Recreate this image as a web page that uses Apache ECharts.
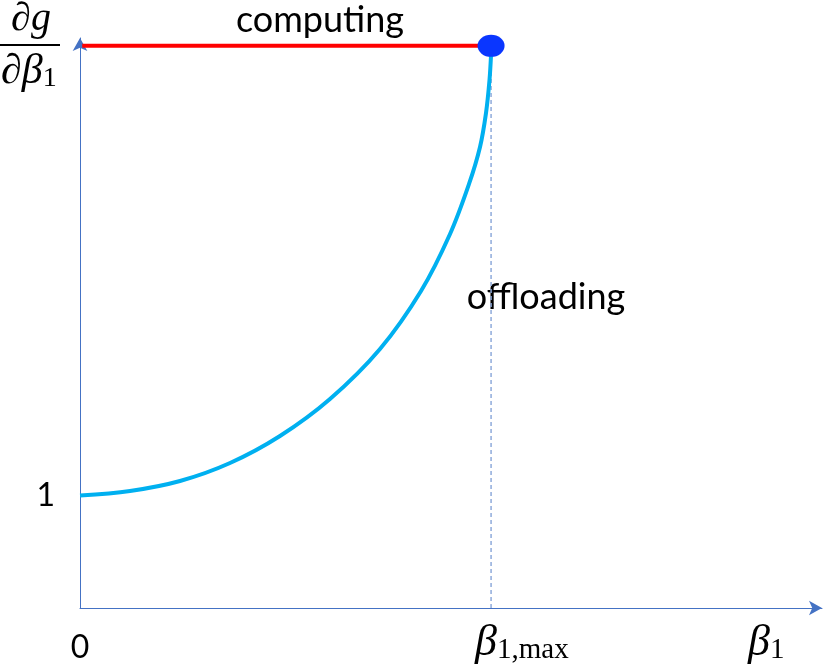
<!DOCTYPE html>
<html>
<head>
<meta charset="utf-8">
<script src="https://cdn.jsdelivr.net/npm/echarts@6/dist/echarts.min.js"></script>
<style>html,body{margin:0;padding:0;background:#fff}#c{width:830px;height:670px}</style>
</head>
<body>
<div id="c"></div>
<script>
// Data
const curveX = [0, 0.674, 1.348, 2.022, 2.695, 3.369, 4.043, 4.596, 4.987, 5.243, 5.391, 5.472, 5.519, 5.539];
const curveY = [1.0, 1.041, 1.130, 1.290, 1.530, 1.859, 2.304, 2.820, 3.327, 3.772, 4.101, 4.404, 4.698, 4.911];
const computingX = [0.03, 5.54];
const computingY = [5, 5];
const betaMax = 5.54;
const betaAxisPos = 9.3;
const xTickValues = [0];
const yTickValues = [1];

const chart = echarts.init(document.getElementById('c'));
const txtFont = 'Lato';
const mathFont = 'Liberation Serif';

chart.setOption({
  animation: false,
  grid: {left: 80, right: 8, top: 38, bottom: 62},
  xAxis: {
    type: 'value', min: 0, max: 10,
    splitLine: {show: false},
    axisLine: {lineStyle: {color: '#4472c4', width: 1}, symbol: ['none', 'arrow'], symbolSize: [11, 13]},
    axisTick: {show: false},
    axisLabel: {
      customValues: xTickValues,
      margin: 24,
      fontFamily: txtFont, fontSize: 32, color: '#000'
    }
  },
  yAxis: {
    type: 'value', min: 0, max: 5.07,
    splitLine: {show: false},
    axisLine: {show: true, lineStyle: {color: '#4472c4', width: 1}, symbol: ['none', 'arrow'], symbolSize: [11, 13]},
    axisTick: {show: false},
    axisLabel: {
      customValues: yTickValues,
      margin: 25,
      fontFamily: txtFont, fontSize: 32, color: '#000'
    }
  },
  series: [
    {
      type: 'line', data: [[betaMax, 0], [betaMax, 5]], symbol: 'none',
      lineStyle: {color: '#8eaadb', width: 1.5, type: [4, 3]}, z: 1
    },
    {
      type: 'line', data: computingX.map((x, i) => [x, computingY[i]]), symbol: 'none',
      lineStyle: {color: '#ff0000', width: 4}, z: 2
    },
    {
      type: 'line', data: curveX.map((x, i) => [x, curveY[i]]), symbol: 'none', smooth: 0.35,
      lineStyle: {color: '#00b0f0', width: 4}, z: 3
    },
    {
      type: 'scatter', data: [[betaMax, 5]], symbol: 'circle', symbolSize: [27, 22],
      itemStyle: {color: '#0a36ff', opacity: 1}, z: 4
    }
  ]
});

const pMax = chart.convertToPixel({gridIndex: 0}, [betaMax, 0]);
const pB1 = chart.convertToPixel({gridIndex: 0}, [betaAxisPos, 0]);
const mathRich = function (bs, ss) {
  return {
    b: {fontFamily: mathFont, fontStyle: 'italic', fontSize: bs, fill: '#000'},
    s: {fontFamily: mathFont, fontSize: ss, fill: '#000', verticalAlign: 'bottom'}
  };
};
chart.setOption({
  graphic: [
    {type: 'text', x: 320, y: 20, style: {text: 'computing', font: '36px Lato', fill: '#000', textAlign: 'center', textVerticalAlign: 'middle'}},
    {type: 'text', x: 546, y: 297, style: {text: 'offloading', font: '36px Lato', fill: '#000', textAlign: 'center', textVerticalAlign: 'middle'}},
    {type: 'text', x: 31, y: 19, style: {text: '∂g', font: 'italic 40px "Liberation Serif"', fill: '#000', textAlign: 'center', textVerticalAlign: 'middle'}},
    {type: 'line', shape: {x1: 0, y1: 45, x2: 60, y2: 45}, style: {stroke: '#000', lineWidth: 2}},
    {type: 'text', x: 1, y: 72, style: {
      text: '{b|∂β}{s|1}', textAlign: 'left', textVerticalAlign: 'middle',
      rich: mathRich(42, 28)
    }},
    {type: 'text', x: pMax[0] - 16, y: 643, style: {
      text: '{b|β}{s|1,max}', textAlign: 'left', textVerticalAlign: 'middle',
      rich: mathRich(44, 29)
    }},
    {type: 'text', x: pB1[0] - 22, y: 643, style: {
      text: '{b|β}{s|1}', textAlign: 'left', textVerticalAlign: 'middle',
      rich: mathRich(44, 29)
    }}
  ]
});
</script>
</body>
</html>
